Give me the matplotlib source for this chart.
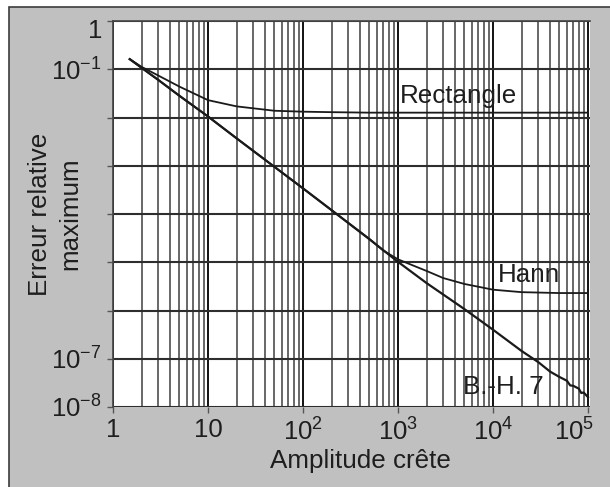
import matplotlib
matplotlib.use("Agg")
from matplotlib import pyplot as plt
from matplotlib.patches import Rectangle
from matplotlib.ticker import FixedLocator, NullFormatter
from matplotlib.transforms import ScaledTranslation

plt.rcParams['font.family'] = ['Liberation Sans', 'DejaVu Sans']
plt.rcParams['mathtext.fontset'] = 'custom'
plt.rcParams['mathtext.rm'] = 'Liberation Sans'
plt.rcParams['mathtext.it'] = 'Liberation Sans'
plt.rcParams['mathtext.default'] = 'regular'

# peak amplitude vs. max relative error for three windows
bh_amp = [1.5, 2, 3, 5, 10, 20, 50, 100, 200, 500, 1e3, 2e3, 5e3, 1e4, 2e4,
          3e4, 4e4, 5e4, 6e4, 6.5e4, 7e4, 8e4, 8.5e4, 9e4, 1e5]
bh_err = [0.162, 0.107, 0.060, 0.0282, 0.0105, 3.7e-3, 9.5e-4, 3.4e-4, 1.2e-4,
          3.0e-5, 1.02e-5, 3.7e-6, 1.07e-6, 4.0e-7, 1.45e-7, 8.5e-8, 5.4e-8,
          4.2e-8, 3.5e-8, 2.8e-8, 2.75e-8, 2.4e-8, 1.95e-8, 2.0e-8, 1.6e-8]

rect_amp = [1.5, 2, 3, 5, 10, 20, 50, 100, 200, 500, 1e3, 1e4, 1e5]
rect_err = [0.162, 0.112, 0.074, 0.0437, 0.0229, 0.0170, 0.0138, 0.0132,
            0.0129, 0.0126, 0.0126, 0.0126, 0.0126]

hann_amp = [1.5, 2, 3, 5, 10, 20, 50, 100, 200, 500, 700, 1e3, 1.5e3, 2e3,
            3e3, 5e3, 1e4, 2e4, 5e4, 1e5]
hann_err = [0.162, 0.107, 0.060, 0.0282, 0.0105, 3.7e-3, 9.5e-4, 3.4e-4,
            1.2e-4, 3.05e-5, 1.75e-5, 1.15e-5, 8.3e-6, 6.6e-6, 4.7e-6,
            3.55e-6, 2.7e-6, 2.4e-6, 2.3e-6, 2.3e-6]

x_ticks = [1, 10, 1e2, 1e3, 1e4, 1e5]
x_labels = ['1', '10', '$10^2$', '$10^3$', '$10^4$', '$10^5$']
y_ticks = [1e-8, 1e-7, 1e-6, 1e-5, 1e-4, 1e-3, 1e-2, 1e-1, 1]
y_labels = ['$10^{-8}$', '$10^{-7}$', '', '', '', '', '', '$10^{-1}$', '1']

W, H = 610, 487
fig = plt.figure(figsize=(W / 100, H / 100), dpi=100, facecolor='white')

# grey panel with a border on the left and top
fig.patches.append(Rectangle((9 / W, -0.02), 1.1, 1 - 7 / H + 0.02,
                             transform=fig.transFigure, facecolor='#c0c0c0',
                             edgecolor='#3c3c3c', lw=1.2, zorder=-5))

ax = fig.add_axes([113 / W, 1 - 407 / H, (590 - 113) / W, (407 - 21) / H])
ax.set_facecolor('white')
ax.set_xscale('log')
ax.set_yscale('log')
ax.set_xlim(1, 1.05e5)
ax.set_ylim(1e-8, 1)

ax.xaxis.set_major_locator(FixedLocator(x_ticks))
ax.set_xticklabels(x_labels)
minors = [m * 10 ** k for k in range(5) for m in range(2, 10)]
ax.xaxis.set_minor_locator(FixedLocator(minors))
ax.xaxis.set_minor_formatter(NullFormatter())
ax.yaxis.set_major_locator(FixedLocator(y_ticks))
ax.set_yticklabels(y_labels)
ax.yaxis.set_minor_locator(FixedLocator([]))

ax.set_axisbelow(True)
ax.grid(True, which='major', axis='x', color='#111111', lw=1.4)
ax.grid(True, which='minor', axis='x', color='#5c5c5c', lw=1.3)
ax.grid(True, which='major', axis='y', color='#2e2e2e', lw=1.5)

for s in ['right', 'bottom']:
    ax.spines[s].set_visible(False)
for s in ['left', 'top']:
    ax.spines[s].set_color('#444444')
    ax.spines[s].set_linewidth(1.2)

ax.tick_params(which='major', direction='out', length=4, width=1,
               color='#555555', labelsize=18.5, labelcolor='#1e1e1e', pad=4)
ax.tick_params(which='minor', length=0)

# keep the end labels inside the panel
last_x = ax.get_xticklabels()[-1]
last_x.set_transform(last_x.get_transform() +
                     ScaledTranslation(-14 / 100, 0, fig.dpi_scale_trans))
top_y = ax.get_yticklabels()[-1]
top_y.set_transform(top_y.get_transform() +
                    ScaledTranslation(0, -7 / 100, fig.dpi_scale_trans))

ax.plot(rect_amp, rect_err, color='#1a1a1a', lw=1.3)
ax.plot(hann_amp, hann_err, color='#1a1a1a', lw=1.3)
ax.plot(bh_amp, bh_err, color='#1a1a1a', lw=1.6)

ax.text(1040, 0.020, 'Rectangle', fontsize=18.7, color='#1e1e1e', va='baseline')
ax.text(1.12e4, 3.9e-6, 'Hann', fontsize=18.7, color='#1e1e1e', va='baseline')
ax.text(4.8e3, 1.86e-8, 'B.-H. 7', fontsize=18.7, color='#1e1e1e', va='baseline')

fig.text(360.5 / W, 1 - 468 / H, 'Amplitude crête', fontsize=18.7,
         color='#1e1e1e', ha='center', va='baseline')
fig.text(55 / W, 1 - 214 / H, 'Erreur relative\nmaximum', fontsize=18.7,
         color='#1e1e1e', ha='center', va='center', rotation=90,
         multialignment='center', linespacing=1.3)

fig.savefig('out.png', dpi=100, facecolor='white')
